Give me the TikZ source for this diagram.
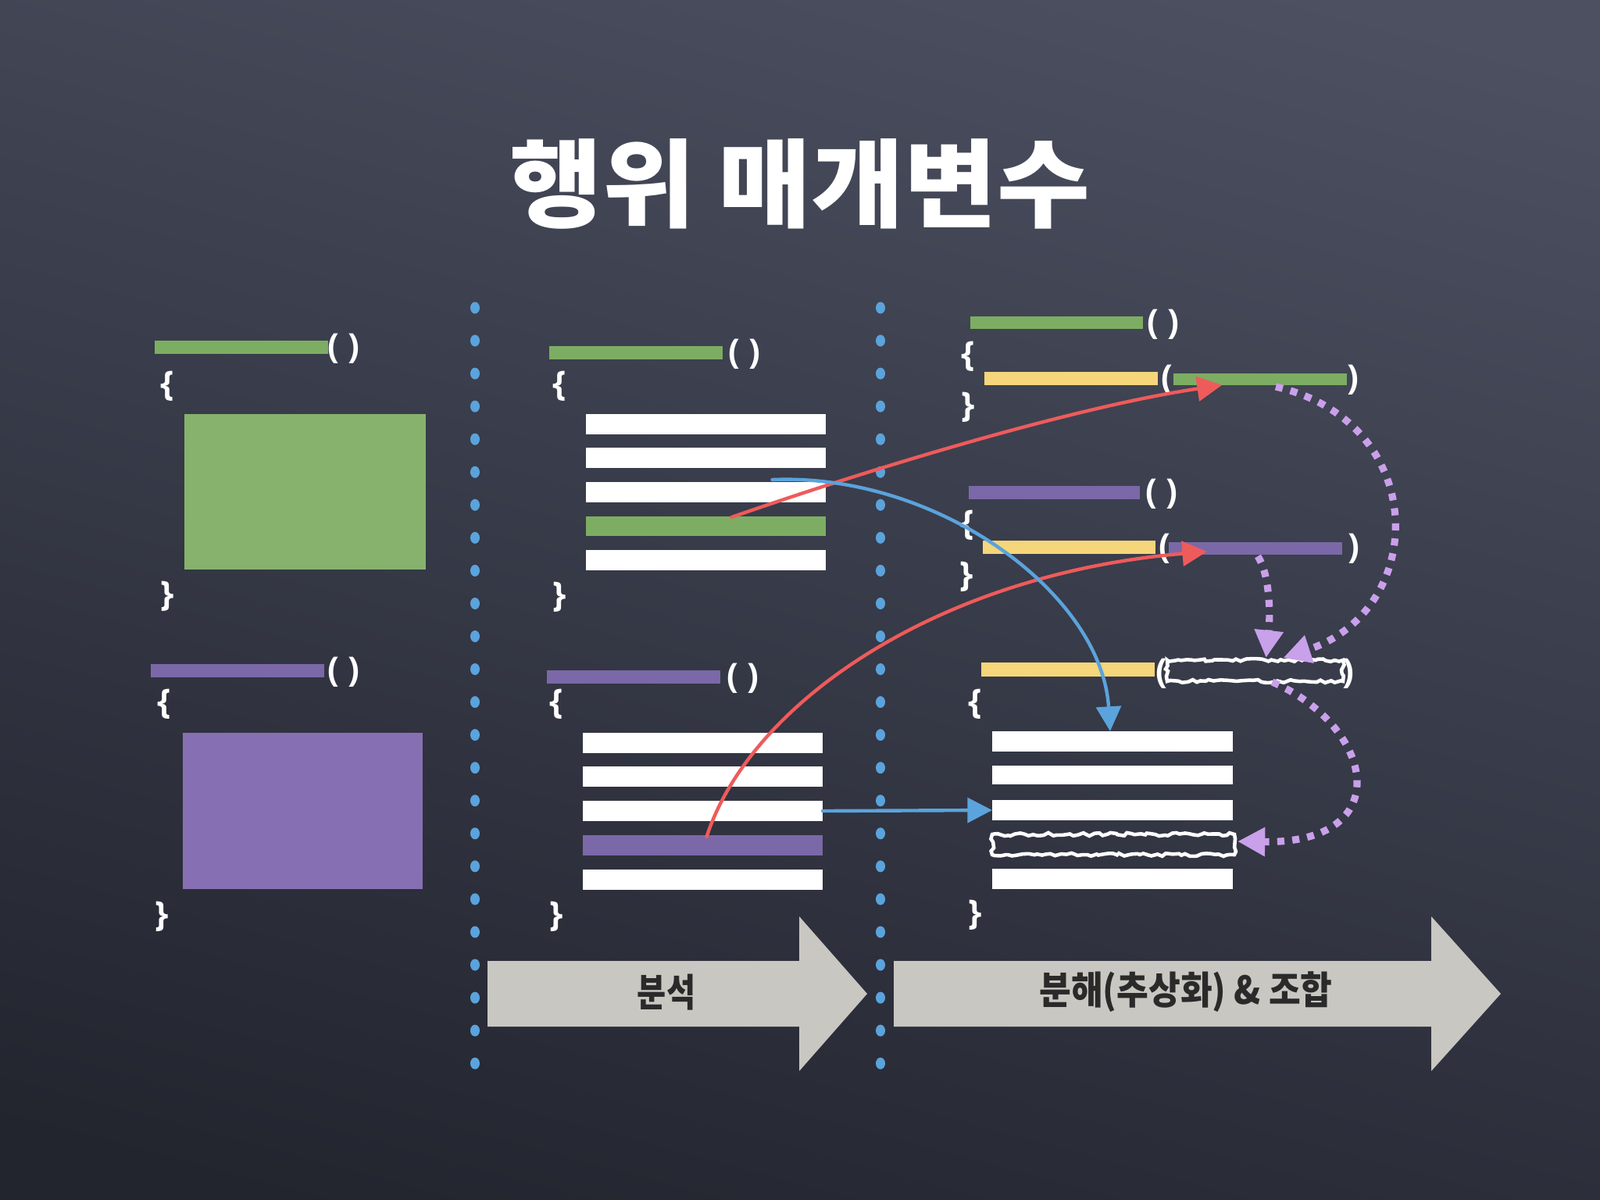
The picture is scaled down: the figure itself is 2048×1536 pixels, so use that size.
\documentclass[tikz,border=0pt]{standalone}
\usepackage{fontspec}
\setmainfont{Open Sans}
\newfontfamily\kr{Noto Sans CJK KR}
\usetikzlibrary{arrows.meta,decorations.pathmorphing,calc}
\definecolor{bgtop}{HTML}{4C5061}
\definecolor{bgmid}{HTML}{3D404E}
\definecolor{bgbot}{HTML}{22242E}
\definecolor{cgreen}{HTML}{7DAD63}
\definecolor{cgreenbox}{HTML}{86B26D}
\definecolor{cpurple}{HTML}{7B68A8}
\definecolor{cpurplebox}{HTML}{8670B3}
\definecolor{cyellow}{HTML}{F5D67A}
\definecolor{cblue}{HTML}{5BA3DC}
\definecolor{cred}{HTML}{EE5B5B}
\definecolor{clilac}{HTML}{C9A0EA}
\definecolor{cgray}{HTML}{C9C7C1}
\definecolor{ctext}{HTML}{2A2A2A}
\newcommand\mkbar[6]{\node[barnode, fill=#6, minimum width={(#4-#2)*0.01cm}, minimum height={(#5-#3)*0.01cm}] (#1) at ({(#2+#4)/2},{(#3+#5)/2}) {};}
\tikzset{
  barnode/.style={rectangle, inner sep=0pt, outer sep=0pt, draw=none},
  sym/.style={text=white, font=\bfseries\fontsize{12.5}{12.5}\selectfont, inner sep=0pt},
  sketch/.style={draw=white, line width=1.3pt, decorate, decoration={random steps, segment length=1.5pt, amplitude=0.6pt}},
  chalk/.style={line width=1.25pt, line cap=round},
  redarrow/.style={chalk, draw=cred, -{Triangle[length=9pt,width=9pt]}},
  bluearrow/.style={chalk, draw=cblue, -{Triangle[length=9pt,width=9pt]}},
  lilacarrow/.style={draw=clilac, line width=2.6pt, dash pattern=on 2.6pt off 2.9pt, -{Triangle[length=10pt,width=10pt]}},
  bigarrow/.style={fill=cgray},
  arrowtext/.style={text=ctext, font=\kr\bfseries\fontsize{14}{14}\selectfont, inner sep=0pt}
}
\begin{document}
\begin{tikzpicture}[x=0.01cm,y=-0.01cm]
\useasboundingbox (0,0) rectangle (2048,1536);
\shade[top color=bgtop, middle color=bgmid, bottom color=bgbot, shading angle=-15] (-100,-100) rectangle (2148,1636);

% title
\node[text=white, font=\kr\bfseries\fontsize{35}{35}\selectfont, xscale=1.05, inner sep=0pt] (title) at (1024,235) {행위 매개변수};

% dotted separators
\foreach \i in {0,...,23} {
  \fill[cblue] (608,{394+42.05*\i}) ellipse (0.06cm and 0.075cm);
  \fill[cblue] (1127,{394+42.05*\i}) ellipse (0.06cm and 0.075cm);
}

% ---------- left column ----------
\mkbar{lg}{198}{436}{420}{453}{cgreen}
\node[sym] (lgp) at (440,446) {( )};
\node[sym] (lgo) at (214,494) {\{};
\mkbar{lgbox}{236}{530}{545}{729}{cgreenbox}
\node[sym] (lgc) at (214,763) {\}};

\mkbar{lp}{193}{850}{415}{867}{cpurple}
\node[sym] (lpp) at (440,860) {( )};
\node[sym] (lpo) at (210,901) {\{};
\mkbar{lpbox}{234}{938}{541}{1138}{cpurplebox}
\node[sym] (lpc) at (207,1173) {\}};

% ---------- middle column ----------
\mkbar{mg}{703}{443}{925}{460}{cgreen}
\node[sym] (mgp) at (953,453) {( )};
\node[sym] (mgo) at (716,494) {\{};
\mkbar{mt1}{750}{530}{1057}{556}{white}
\mkbar{mt2}{750}{573}{1057}{599}{white}
\mkbar{mt3}{750}{617}{1057}{643}{white}
\mkbar{mt4}{750}{661}{1057}{686}{cgreen}
\mkbar{mt5}{750}{704}{1057}{730}{white}
\node[sym] (mgc) at (716,764) {\}};

\mkbar{mp}{700}{858}{922}{875}{cpurple}
\node[sym] (mpp) at (951,868) {( )};
\node[sym] (mpo) at (712,901) {\{};
\mkbar{mb1}{746}{938}{1053}{964}{white}
\mkbar{mb2}{746}{981}{1053}{1007}{white}
\mkbar{mb3}{746}{1025}{1053}{1051}{white}
\mkbar{mb4}{746}{1069}{1053}{1095}{cpurple}
\mkbar{mb5}{746}{1113}{1053}{1139}{white}
\node[sym] (mpc) at (712,1173) {\}};

% ---------- right column ----------
% group 1
\mkbar{rg1}{1242}{405}{1463}{421}{cgreen}
\node[sym] (rg1pp) at (1489,415) {( )};
\node[sym] (rg1o) at (1239,456) {\{};
\mkbar{rg1y}{1260}{476}{1482}{493}{cyellow}
\node[sym] (rg1l) at (1494,486) {(};
\mkbar{rg1p}{1502}{478}{1724}{493}{cgreen}
\node[sym] (rg1r) at (1732,486) {)};
\node[sym] (rg1c) at (1239,521) {\}};
% group 2
\mkbar{rg2}{1240}{622}{1459}{639}{cpurple}
\node[sym] (rg2pp) at (1487,632) {( )};
\node[sym] (rg2o) at (1238,672) {\{};
\mkbar{rg2y}{1258}{692}{1479}{709}{cyellow}
\node[sym] (rg2l) at (1491,702) {(};
\mkbar{rg2p}{1496}{694}{1718}{710}{cpurple}
\node[sym] (rg2r) at (1733,702) {)};
\node[sym] (rg2c) at (1237,738) {\}};
% group 3
\mkbar{rg3y}{1256}{848}{1478}{866}{cyellow}
\node[sym] (rg3l) at (1487,862) {(};
\mkbar{rg3s}{1494}{845}{1719}{872}{none}
\draw[sketch] (rg3s.north west) rectangle (rg3s.south east);
\node[sym] (rg3r) at (1726,862) {)};
\node[sym] (rg3o) at (1248,901) {\{};
\mkbar{rb1}{1270}{936}{1578}{962}{white}
\mkbar{rb2}{1270}{980}{1578}{1004}{white}
\mkbar{rb3}{1270}{1024}{1578}{1050}{white}
\mkbar{rb4}{1270}{1068}{1580}{1094}{none}
\draw[sketch] (rb4.north west) rectangle (rb4.south east);
\mkbar{rb5}{1270}{1112}{1578}{1138}{white}
\node[sym] (rg3c) at (1248,1171) {\}};

% ---------- big arrows ----------
\fill[bigarrow] (624,1230) -- (1023,1230) -- (1023,1173) -- (1110,1272) -- (1023,1371) -- (1023,1314) -- (624,1314) -- cycle;
\node[arrowtext, xscale=0.82] (t1) at (853,1270) {분석};
\fill[bigarrow] (1144,1230) -- (1832,1230) -- (1832,1173) -- (1921,1272) -- (1832,1371) -- (1832,1314) -- (1144,1314) -- cycle;
\node[arrowtext, xscale=0.9] (t2) at (1518,1270) {분해(추상화) \& 조합};

% ---------- connectors ----------
\coordinate (r1s) at ($(mt4.north)+(33,1)$);
\coordinate (r1e) at ($(rg1p.south)+(-49,0)$);
\draw[redarrow] (r1s) .. controls (1120,598) and (1380,520) .. (r1e);

\coordinate (r2s) at ($(mb4.north)+(5,2)$);
\coordinate (r2e) at ($(rg2p.center)+(-62,4)$);
\draw[redarrow] (r2s) .. controls (960,900) and (1200,735) .. (r2e);

\coordinate (b1s) at ($(mt3.north)+(85,-3)$);
\coordinate (b1e) at ($(rb1.north)+(-3,0)$);
\draw[bluearrow] (b1s) .. controls (1200,605) and (1410,760) .. (b1e);

\draw[bluearrow] (mb3.east) -- (rb3.west);

\coordinate (p1s) at ($(rg1p.south)+(20,2)$);
\coordinate (p1e) at ($(rg3s.north)+(36,-3)$);
\draw[lilacarrow] (p1s) .. controls (1830,540) and (1830,780) .. (p1e);

\coordinate (p2s) at ($(rg2p.south)+(3,2)$);
\coordinate (p2e) at ($(rg3s.north)+(14,-3)$);
\draw[lilacarrow] (p2s) .. controls (1628,740) and (1625,800) .. (p2e);

\coordinate (p3s) at ($(rg3s.south)+(22,1)$);
\coordinate (p3e) at ($(rb4.east)+(4,-4)$);
\draw[lilacarrow] (p3s) .. controls (1760,930) and (1790,1080) .. (p3e);
\end{tikzpicture}
\end{document}
